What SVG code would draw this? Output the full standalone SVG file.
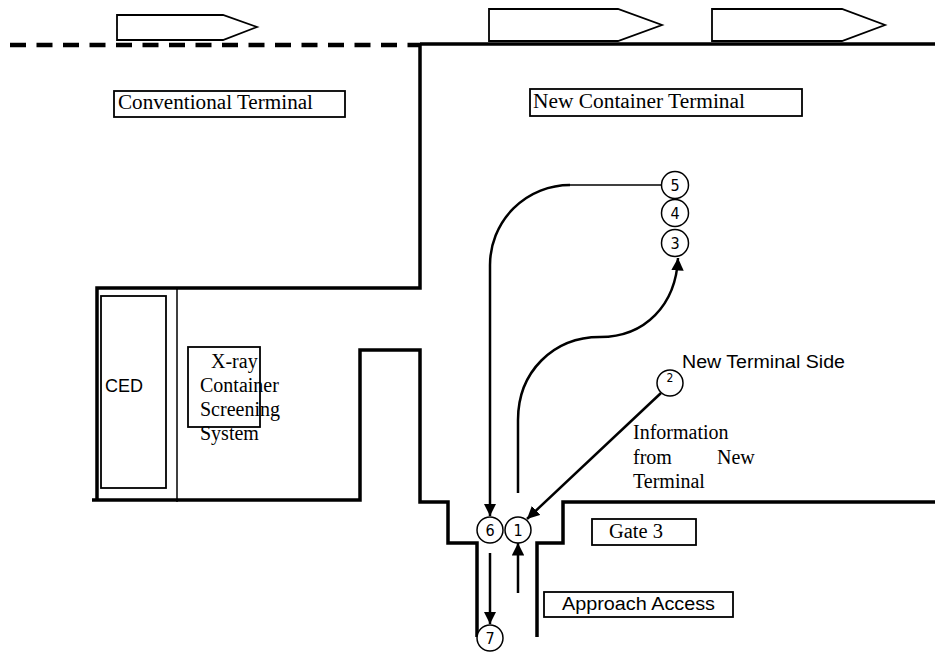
<svg xmlns="http://www.w3.org/2000/svg" width="935" height="653" viewBox="0 0 935 653">
<style>
.wall{fill:none;stroke:#000;stroke-width:3.5}
.thin{fill:none;stroke:#000;stroke-width:1.5}
.box{fill:#fff;stroke:#000;stroke-width:1.8}
.ship{fill:#fff;stroke:#000;stroke-width:1.8}
.arr{fill:none;stroke:#000;stroke-width:2.5}
.node circle{fill:#fff;stroke:#000;stroke-width:1.5}
.num{font-family:"Liberation Sans Narrow","DejaVu Sans Condensed","Liberation Sans",sans-serif;font-size:16px;text-anchor:middle;fill:#000}
.serif{font-family:"Liberation Serif",serif;font-size:20px;fill:#000}
.sans{font-family:"Liberation Sans",sans-serif;font-size:18px;fill:#000}
</style>
<defs>
<marker id="ah" viewBox="0 0 10 10" refX="10" refY="5" markerWidth="5" markerHeight="5" orient="auto" markerUnits="strokeWidth">
<path d="M0,0 L10,5 L0,10 Z" fill="#000"/>
</marker>
</defs>
<rect width="935" height="653" fill="#fff"/>
<g id="walls">
<line x1="10" y1="45" x2="420" y2="45" stroke="#000" stroke-width="4.5" stroke-dasharray="16 10.5"/>
<path class="wall" d="M420,44 H935 M420,44 V288 H97 V500"/>
<path class="wall" d="M92,500 H360 V350 H420 V502 H448 V543 H477 V637"/>
<path class="wall" d="M537,637 V543 H563 V502 H935"/>
<line class="thin" x1="177" y1="288" x2="177" y2="502"/>
</g>
<g id="ships">
<polygon class="ship" points="117,15 223,15 257,27 223,40 117,40"/>
<polygon class="ship" points="489,9 618,9 662,25 618,41 489,41"/>
<polygon class="ship" points="712,9 842,9 885,25 842,41 712,41"/>
</g>
<g id="conventional">
<rect class="box" x="114" y="91" width="231" height="26"/>
<text class="serif" x="118" y="109" textLength="195" lengthAdjust="spacingAndGlyphs">Conventional Terminal</text>
</g>
<g id="newterminal">
<rect class="box" x="530" y="89" width="272" height="27"/>
<text class="serif" x="533" y="108" textLength="212" lengthAdjust="spacingAndGlyphs">New Container Terminal</text>
</g>
<g id="ced">
<rect class="box" x="101" y="296" width="65" height="192" fill="none"/>
<text class="sans" x="105" y="392" textLength="38" lengthAdjust="spacingAndGlyphs">CED</text>
</g>
<g id="xray">
<rect class="box" x="188" y="347" width="72" height="80" fill="none"/>
<text class="serif"><tspan x="211" y="368">X-ray</tspan><tspan x="200" y="392">Container</tspan><tspan x="200" y="416">Screening</tspan><tspan x="200" y="440">System</tspan></text>
</g>
<g id="gate3">
<rect class="box" x="592" y="519" width="104" height="26"/>
<text class="serif" x="609" y="538" textLength="54" lengthAdjust="spacingAndGlyphs">Gate 3</text>
</g>
<g id="approach">
<rect class="box" x="544" y="592" width="189" height="25"/>
<text class="sans" x="562" y="610" textLength="153" lengthAdjust="spacingAndGlyphs">Approach Access</text>
</g>
<g id="labels">
<text class="sans" x="682" y="368" textLength="163" lengthAdjust="spacingAndGlyphs">New Terminal Side</text>
<text class="serif"><tspan x="633" y="439">Information</tspan><tspan x="633" y="464">from</tspan><tspan x="717" y="464">New</tspan><tspan x="633" y="488">Terminal</tspan></text>
</g>
<g id="connectors">
<path class="thin" d="M661,185 H570"/>
<path class="arr" d="M570,185 A80,80 0 0 0 490,265 V516" marker-end="url(#ah)"/>
<path class="arr" d="M518,493 V420 C518,372 553,337 600,337 C645,337 676,305 678,258" marker-end="url(#ah)"/>
<path class="arr" d="M661,393 L527,519" marker-end="url(#ah)"/>
<path class="arr" d="M518,593 V543" marker-end="url(#ah)"/>
<path class="arr" d="M490,553 V624" marker-end="url(#ah)"/>
</g>
<g id="n1" class="node"><circle cx="518" cy="530" r="13"/><text class="num" x="518" y="536">1</text></g>
<g id="n2" class="node"><circle cx="670" cy="383" r="13"/><text class="num" x="670" y="382" style="font-size:12px">2</text></g>
<g id="n3" class="node"><circle cx="675" cy="243" r="13.5"/><text class="num" x="675" y="249">3</text></g>
<g id="n4" class="node"><circle cx="675" cy="213" r="13.5"/><text class="num" x="675" y="219">4</text></g>
<g id="n5" class="node"><circle cx="675" cy="185" r="13.5"/><text class="num" x="675" y="191">5</text></g>
<g id="n6" class="node"><circle cx="490" cy="530" r="13"/><text class="num" x="490" y="536">6</text></g>
<g id="n7" class="node"><circle cx="490" cy="638" r="13"/><text class="num" x="490" y="644">7</text></g>
</svg>
